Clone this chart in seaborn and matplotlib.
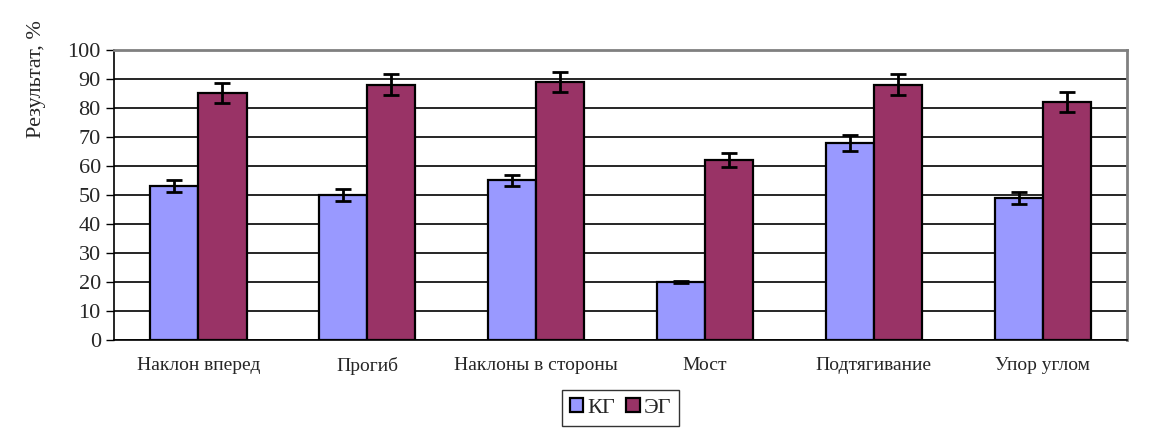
import pandas as pd
import numpy as np
import matplotlib
matplotlib.use("Agg")
import matplotlib.pyplot as plt
import seaborn as sns

categories = ["Наклон вперед", "Прогиб", "Наклоны в стороны", "Мост", "Подтягивание", "Упор углом"]
groups = ["КГ", "ЭГ"]
kg_values = [53, 50, 55, 20, 68, 49]
eg_values = [85, 88, 89, 62, 88, 82]
kg_err = [2, 2, 2, 0.5, 2.8, 2]
eg_err = [3.5, 3.5, 3.5, 2.5, 3.5, 3.3]

df = pd.DataFrame({
    "cat": categories * 2,
    "group": ["КГ"] * 6 + ["ЭГ"] * 6,
    "value": kg_values + eg_values,
    "err": kg_err + eg_err,
})

sns.set_style("white")
plt.rcParams['font.family'] = ['Liberation Serif', 'DejaVu Serif']

fig = plt.figure(figsize=(11.68, 4.37), dpi=100)
ax = fig.add_axes([0.0976, 0.222, 0.8674, 0.664])

sns.barplot(data=df, x="cat", y="value", hue="group", hue_order=groups,
            palette=["#9999FF", "#993366"], saturation=1, width=0.57, gap=0,
            errorbar=None, edgecolor="black", linewidth=1.6, ax=ax, zorder=3)

# error bars at bar centres
for container, g in zip(ax.containers, groups):
    sub = df[df["group"] == g]
    xs = [p.get_x() + p.get_width() / 2 for p in container.patches]
    ax.errorbar(xs, sub["value"].values, yerr=sub["err"].values, fmt="none",
                ecolor="black", elinewidth=2, capsize=6, capthick=2, zorder=4)

ax.set_ylim(0, 100)
ax.set_xlim(-0.5, 5.5)
ax.set_yticks(range(0, 101, 10))
ax.yaxis.grid(True, color="black", linewidth=1.2, zorder=0)
ax.set_axisbelow(True)

ax.set_xticks(np.arange(-0.5, 6, 1), minor=True)
ax.tick_params(axis="x", which="major", length=0, pad=12, labelsize=14)
ax.tick_params(axis="x", which="minor", length=6, width=1, color="black", direction="out")
ax.tick_params(axis="y", length=6, width=1, color="black", direction="out", labelsize=16, left=True)

for s in ["top", "right"]:
    ax.spines[s].set_color("#808080")
    ax.spines[s].set_linewidth(2)
for s in ["left", "bottom"]:
    ax.spines[s].set_color("black")
    ax.spines[s].set_linewidth(1.2)

ax.set_xlabel("")
ax.set_ylabel("Результат, %", fontsize=16)
ax.yaxis.set_label_coords(-0.067, 0.9)

ax.legend(loc="upper center", bbox_to_anchor=(0.5, -0.135), ncol=2, frameon=True,
          fancybox=False, edgecolor="black", fontsize=16, handlelength=0.6,
          handleheight=0.6, handletextpad=0.2, columnspacing=0.5, borderpad=0.35)

fig.savefig("out.png", dpi=100)
